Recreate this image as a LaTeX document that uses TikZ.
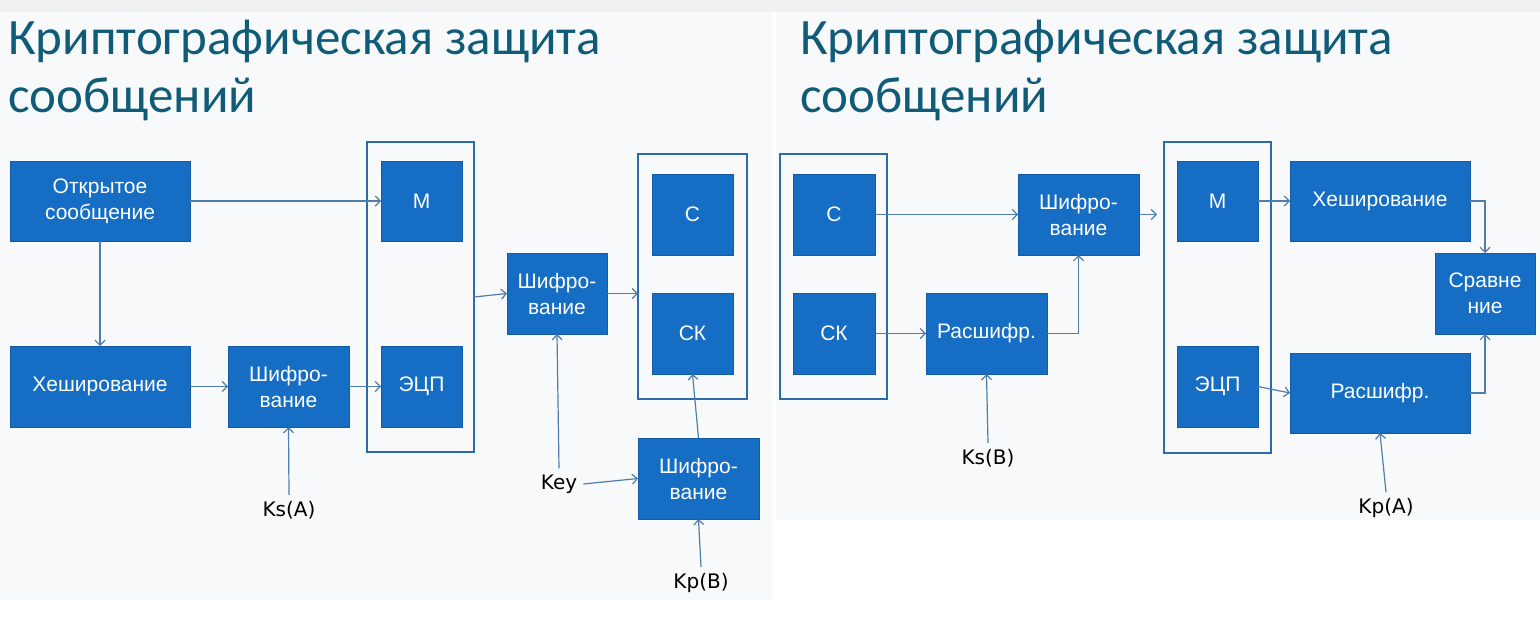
\documentclass[tikz,border=0pt]{standalone}
\usepackage{fontspec}
\setmainfont{Liberation Sans}
\newfontfamily\titlefont{Carlito}
\newfontfamily\labelfont{DejaVu Sans}
\usetikzlibrary{arrows.meta}
\definecolor{boxblue}{RGB}{22,110,196}
\definecolor{boxedge}{RGB}{20,90,165}
\definecolor{contblue}{RGB}{45,108,170}
\definecolor{arrblue}{RGB}{80,125,172}
\definecolor{titleteal}{RGB}{16,92,120}
\definecolor{slidebg}{RGB}{248,249,250}
\definecolor{topgray}{RGB}{240,241,242}
\begin{document}
\begin{tikzpicture}[x=1pt,y=-1pt,
  blk/.style={fill=boxblue, draw=boxedge, line width=0.8pt, text=white,
    font=\fontsize{21}{26}\selectfont, align=center, inner sep=0pt, outer sep=0pt},
  cont/.style={draw=contblue, line width=2pt, inner sep=0pt, outer sep=0pt},
  lbl/.style={font=\labelfont\fontsize{20}{22}\selectfont, text=black, inner sep=6pt},
  arr/.style={draw=arrblue, line width=1.2pt, -{Straight Barb[length=5pt,width=10pt]}},
  ttl/.style={font=\titlefont\fontsize{51}{58}\selectfont, text=titleteal, anchor=base west, inner sep=0pt}
]
\useasboundingbox (0,0) rectangle (1540,620);
\fill[white] (0,0) rectangle (1540,620);
\fill[topgray] (0,0) rectangle (1540,12);
\fill[slidebg] (0,12) rectangle (772,600);
\fill[slidebg] (776,12) rectangle (1540,520);

% titles
\node[ttl] (t1a) at (8,55) {Криптографическая защита};
\node[ttl] (t1b) at (8,113) {сообщений};
\node[ttl] (t2a) at (800,55) {Криптографическая защита};
\node[ttl] (t2b) at (800,113) {сообщений};

% ===== left slide =====
\node[cont, minimum width=107pt, minimum height=310pt] (cont1) at (420.5,297) {};
\node[cont, minimum width=109pt, minimum height=245pt] (cont2) at (692.5,276.5) {};

\node[blk, minimum width=180pt, minimum height=80pt] (open) at (100,201) {Открытое\\сообщение};
\node[blk, minimum width=180pt, minimum height=81pt] (hash1) at (100,386.5) {Хеширование};
\node[blk, minimum width=121pt, minimum height=81pt] (enc1) at (288.5,386.5) {Шифро-\\вание};
\node[blk, minimum width=81pt, minimum height=80pt] (M1) at (421.5,201) {М};
\node[blk, minimum width=81pt, minimum height=81pt] (ecp1) at (421.5,386.5) {ЭЦП};
\node[blk, minimum width=100pt, minimum height=81pt] (enc2) at (557,293.5) {Шифро-\\вание};
\node[blk, minimum width=81pt, minimum height=81pt] (C1) at (692.5,214.5) {С};
\node[blk, minimum width=81pt, minimum height=81pt] (CK1) at (692.5,333.5) {СК};
\node[blk, minimum width=121pt, minimum height=81pt] (enc3) at (698.5,478.5) {Шифро-\\вание};

\node[lbl] (ksA) at (289,510) {Ks(A)};
\node[lbl] (key) at (559,484) {Key};
\node[lbl] (kpB) at (701,583) {Kp(B)};

\draw[arr] (open.east) -- (M1.west);
\draw[arr] (open.south) -- (hash1.north);
\draw[arr] (hash1.east) -- (enc1.west);
\draw[arr] (enc1.east) -- (ecp1.west);
\draw[arr] (ksA.north) -- (enc1.south);
\draw[arr] (cont1.east) -- (enc2.west);
\draw[arr] (enc2.east) -- (enc2.east -| cont2.west);
\draw[arr] (key.north) -- (enc2.south);
\draw[arr] (key.east) -- (enc3.west);
\draw[arr] (enc3.north) -- (CK1.south);
\draw[arr] (kpB.north) -- (enc3.south);

% ===== right slide =====
\node[cont, minimum width=107pt, minimum height=245pt] (cont3) at (833.5,276.5) {};
\node[cont, minimum width=107pt, minimum height=311pt] (cont4) at (1217.5,297.5) {};

\node[blk, minimum width=82pt, minimum height=81pt] (C2) at (834,214.5) {С};
\node[blk, minimum width=82pt, minimum height=81pt] (CK2) at (834,333.5) {СК};
\node[blk, minimum width=121pt, minimum height=81pt] (enc4) at (1078.5,214.5) {Шифро-\\вание};
\node[blk, minimum width=121pt, minimum height=81pt] (dec1) at (986.5,333.5) {Расшифр.};
\node[blk, minimum width=81pt, minimum height=80pt] (M2) at (1217.5,201) {М};
\node[blk, minimum width=81pt, minimum height=81pt] (ecp2) at (1217.5,386.5) {ЭЦП};
\node[blk, minimum width=180pt, minimum height=80pt] (hash2) at (1380,201) {Хеширование};
\node[blk, minimum width=100pt, minimum height=81pt] (cmp) at (1485,293.5) {Сравне\\ние};
\node[blk, minimum width=180pt, minimum height=80pt] (dec2) at (1380,393) {Расшифр.};

\node[lbl] (ksB) at (988,458) {Ks(B)};
\node[lbl] (kpA) at (1386,508) {Kp(A)};

\draw[arr] (C2.east) -- (enc4.west);
\draw[arr] (CK2.east) -- (dec1.west);
\draw[arr] (dec1.east) -| (enc4.south);
\draw[arr] (ksB.north) -- (dec1.south);
\draw[arr, shorten >=7pt] (enc4.east) -- (enc4.east -| cont4.west);
\draw[arr] (M2.east) -- (hash2.west);
\draw[arr] (ecp2.east) -- (dec2.west);
\draw[arr] (hash2.east) -| (cmp.north);
\draw[arr] (dec2.east) -| (cmp.south);
\draw[arr] (kpA.north) -- (dec2.south);
\end{tikzpicture}
\end{document}
